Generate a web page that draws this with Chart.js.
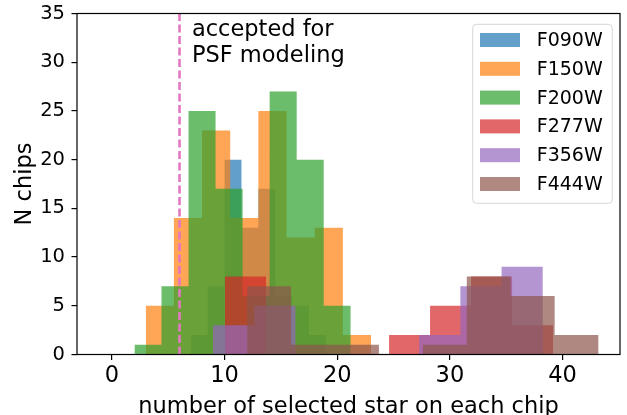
<!DOCTYPE html>
<html>
<head>
<meta charset="utf-8">
<script src="https://cdn.jsdelivr.net/npm/chart.js@4"></script>
<style>
  html, body { margin: 0; padding: 0; background: #fff; }
</style>
</head>
<body>
<canvas id="histChart" width="627" height="415"></canvas>
<script>
// histogram bins per filter: edges and chip counts
const filters = ['F090W', 'F150W', 'F200W', 'F277W', 'F356W', 'F444W'];
const colors = ['31,119,180', '255,127,14', '44,160,44', '214,39,40', '148,103,189', '140,86,75'];

const f090wEdges = [7, 8.5, 10, 11.5, 13, 14.5, 16, 17.5, 19];
const f090wCounts = [2, 7, 20, 13, 17, 6, 5, 2];
const f150wEdges = [3, 5.5, 8, 10.5, 13, 15.5, 18, 20.5, 23];
const f150wCounts = [5, 14, 23, 14, 25, 12, 13, 2];
const f200wEdges = [2, 4.4, 6.8, 9.2, 11.6, 14, 16.4, 18.8, 21.2];
const f200wCounts = [1, 7, 25, 17, 6, 27, 20, 5];
const f277wEdges = [10.04, 13.68, 17.32, 20.96, 24.6, 28.24, 31.88, 35.52, 39.16];
const f277wCounts = [8, 0, 0, 0, 2, 5, 8, 3];
const f356wEdges = [8.97, 12.63, 16.29, 19.95, 23.61, 27.27, 30.93, 34.59, 38.25];
const f356wCounts = [3, 5, 0, 0, 0, 2, 7, 9];
const f444wEdges = [12.0, 15.9, 19.8, 23.7, 27.6, 31.5, 35.4, 39.3, 43.2];
const f444wCounts = [7, 1, 1, 0, 1, 8, 6, 2];

const cutLine = 6;           // accepted for PSF modeling
const xTicks = [0, 10, 20, 30, 40];

const allEdges = [f090wEdges, f150wEdges, f200wEdges, f277wEdges, f356wEdges, f444wEdges];
const allCounts = [f090wCounts, f150wCounts, f200wCounts, f277wCounts, f356wCounts, f444wCounts];

// step outline of a histogram (one point per bin + closing edge)
function histPoints(edges, counts) {
    const pts = counts.map((c, i) => ({ x: edges[i], y: c }));
    pts.push({ x: edges[edges.length - 1], y: counts[counts.length - 1] });
    return pts;
}

const FONT = 'DejaVu Sans';

const datasets = filters.map((name, i) => ({
    label: name,
    data: histPoints(allEdges[i], allCounts[i]),
    stepped: 'before',
    fill: 'origin',
    backgroundColor: 'rgba(' + colors[i] + ',0.7)',
    borderColor: 'rgba(0,0,0,0)',
    borderWidth: 1,
    pointRadius: 0,
    pointHoverRadius: 0,
    order: filters.length - i
}));

datasets.push({
    label: 'cut',
    data: [{ x: cutLine, y: 0 }, { x: cutLine, y: 35 }],
    borderColor: '#e377c2',
    borderWidth: 2.6,
    borderDash: [8, 3.5],
    fill: false,
    pointRadius: 0,
    order: 0
});

// frame, legend and annotation drawn on top
const extras = {
    id: 'extras',
    afterDatasetsDraw(chart) {
        const ctx = chart.ctx;
        const a = chart.chartArea;
        ctx.save();
        ctx.strokeStyle = '#000';
        ctx.lineWidth = 1.2;
        ctx.strokeRect(a.left, a.top, a.right - a.left, a.bottom - a.top);

        // annotation
        const xs = chart.scales.x, ys = chart.scales.y;
        ctx.fillStyle = '#000';
        ctx.font = '22.5px "' + FONT + '"';
        ctx.textAlign = 'left';
        ctx.textBaseline = 'alphabetic';
        const tx = xs.getPixelForValue(7.1);
        ctx.fillText('accepted for', tx, ys.getPixelForValue(32.7));
        ctx.fillText('PSF modeling', tx, ys.getPixelForValue(30));

        // legend
        const lx = 472.7, ly = 24.3, lw = 139.6, lh = 179;
        ctx.beginPath();
        ctx.roundRect(lx, ly, lw, lh, 4);
        ctx.fillStyle = 'rgba(255,255,255,0.8)';
        ctx.fill();
        ctx.strokeStyle = 'rgba(204,204,204,0.8)';
        ctx.lineWidth = 1;
        ctx.stroke();
        ctx.font = '19px "' + FONT + '"';
        ctx.textBaseline = 'middle';
        filters.forEach((name, i) => {
            const cy = 40 + i * 28.8;
            ctx.fillStyle = 'rgba(' + colors[i] + ',0.7)';
            ctx.fillRect(480, cy - 7, 40, 14);
            ctx.fillStyle = '#000';
            ctx.fillText(name, 536.7, cy + 1);
        });
        ctx.restore();
    }
};

new Chart(document.getElementById('histChart').getContext('2d'), {
    type: 'line',
    data: { datasets },
    options: {
        responsive: false,
        animation: false,
        devicePixelRatio: 1,
        layout: { padding: { left: 0, right: 7, top: 13.5, bottom: 0 } },
        plugins: { legend: { display: false }, tooltip: { enabled: false } },
        scales: {
            x: {
                type: 'linear',
                min: -3.1,
                max: 45.1,
                afterBuildTicks: s => { s.ticks = xTicks.map(v => ({ value: v })); },
                afterFit: s => { s.height = 60.5; s.paddingLeft = 0; s.paddingRight = 0; },
                border: { display: false },
                grid: { drawOnChartArea: false, drawTicks: true, tickLength: 5.5, color: '#000', lineWidth: 1.2 },
                ticks: { color: '#000', padding: 3, maxRotation: 0, font: { family: FONT, size: 22.5 } },
                title: {
                    display: true,
                    text: 'number of selected star on each chip',
                    color: '#000',
                    font: { family: FONT, size: 22.5, lineHeight: 1 },
                    padding: { top: 0, bottom: -3.4 }
                }
            },
            y: {
                min: 0,
                max: 35,
                ticks: { stepSize: 5, color: '#000', padding: 6.5, font: { family: FONT, size: 19.5 } },
                afterFit: s => { s.width = 77; s.paddingTop = 0; s.paddingBottom = 0; },
                border: { display: false },
                grid: { drawOnChartArea: false, drawTicks: true, tickLength: 5.5, color: '#000', lineWidth: 1.2 },
                title: {
                    display: true,
                    text: 'N chips',
                    color: '#000',
                    font: { family: FONT, size: 22.5 },
                    padding: { top: 11.5, bottom: 0 }
                }
            }
        }
    },
    plugins: [extras]
});
</script>
</body>
</html>
